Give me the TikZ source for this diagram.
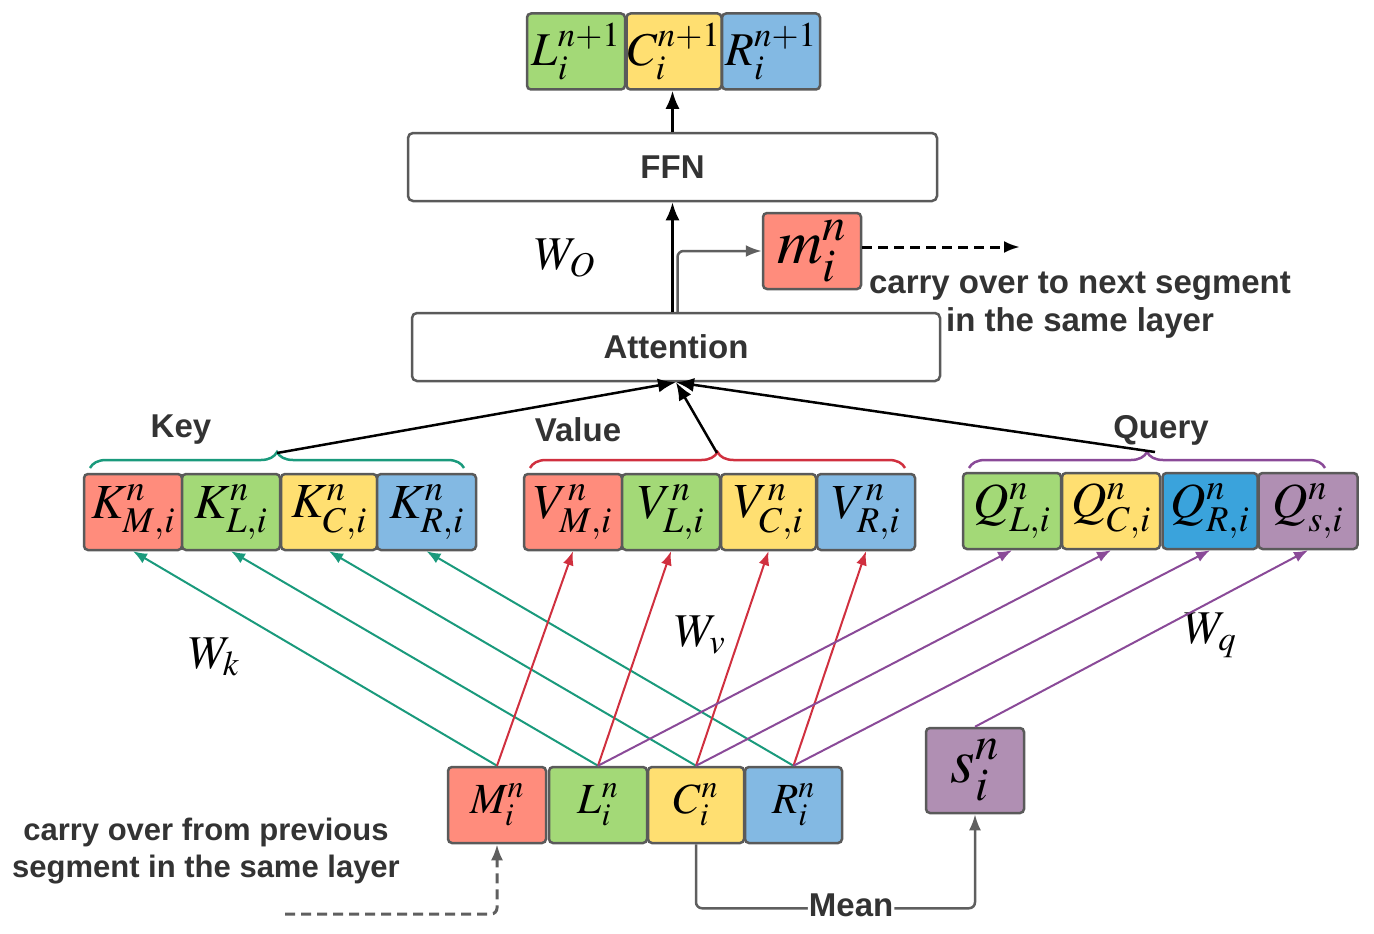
\documentclass[tikz,border=0pt]{standalone}
\usepackage{mathptmx}
\usepackage{fontspec}
\newfontfamily\lsans{Liberation Sans}
\usetikzlibrary{arrows.meta,decorations.pathreplacing,calc}
\definecolor{bd}{HTML}{5A5A5A}
\definecolor{txt}{HTML}{333333}
\definecolor{cM}{HTML}{FF8C7C}
\definecolor{cL}{HTML}{A3D977}
\definecolor{cC}{HTML}{FFDF71}
\definecolor{cR}{HTML}{83B9E3}
\definecolor{cQR}{HTML}{3AA3DC}
\definecolor{cS}{HTML}{B08FB3}
\definecolor{tealc}{HTML}{1A9A7C}
\definecolor{redc}{HTML}{D0303F}
\definecolor{purc}{HTML}{8A4A98}
\definecolor{grayc}{HTML}{5F5F5F}
\begin{document}
\begin{tikzpicture}[x=1pt,y=-1pt,
  cell/.style={draw=bd, line width=2.5pt, rounded corners=4pt, inner sep=0pt,
    minimum width=#1, minimum height=76pt, font=\fontsize{49}{52}\selectfont},
  cell/.default=97pt,
  topcell/.style={cell=#1, font=\fontsize{47}{50}\selectfont},
  botcell/.style={cell=#1, font=\fontsize{43}{46}\selectfont},
  botcell/.default=97pt,
  bigcell/.style={cell=98pt, font=\fontsize{63}{66}\selectfont},
  bigbox/.style={draw=bd, line width=2.5pt, rounded corners=5pt, inner sep=0pt,
    minimum height=68pt, font=\lsans\bfseries\fontsize{33}{38}\selectfont, text=txt},
  lbl/.style={font=\lsans\bfseries\fontsize{33}{38}\selectfont, text=txt, align=center, inner sep=1pt},
  wlbl/.style={font=\fontsize{47}{50}\selectfont, inner sep=0pt},
  tarr/.style={draw=tealc, line width=2pt, -{Latex[length=14pt,width=11pt]}},
  rarr/.style={draw=redc, line width=2pt, -{Latex[length=14pt,width=11pt]}},
  parr/.style={draw=purc, line width=2pt, -{Latex[length=14pt,width=11pt]}},
  barr/.style={draw=black, line width=2.5pt, -{Latex[length=18pt,width=14pt]}},
  garr/.style={draw=grayc, line width=2.5pt, rounded corners=6pt, -{Latex[length=16pt,width=12pt]}},
  dashln/.style={line width=3pt, dash pattern=on 10pt off 6pt},
  bracestyle/.style={line width=2.5pt, decorate, decoration={brace, amplitude=16pt}}
]
\useasboundingbox (0,0) rectangle (1374,934);

% top output cells
\node[topcell=98pt, fill=cL] (Lt) at (576,51.5) {$L_i^{n+1}$};
\node[topcell=95pt, fill=cC] (Ct) at (674,51.5) {$C_i^{n+1}$};
\node[topcell=98pt, fill=cR] (Rt) at (771,51.5) {$R_i^{n+1}$};

% FFN and attention
\node[bigbox, minimum width=529pt] (FFN) at (672.5,167) {FFN};
\node[bigbox, minimum width=528pt] (Att) at (676,347) {Attention};

% memory output
\node[bigcell, fill=cM] (m) at (812,251) {$m_i^n$};
\coordinate (mend) at (1020,247);
\node[lbl] (carrynext) at (1080,305) {carry over to next segment\\in the same layer};

\node[wlbl] (WO) at (565,258) {$W_O$};

% key / value / query rows
\node[cell=98pt, fill=cM] (KM) at (133,512) {$K^n_{M,i}$};
\node[cell=98pt, fill=cL] (KL) at (231,512) {$K^n_{L,i}$};
\node[cell=96pt, fill=cC] (KC) at (329,512) {$K^n_{C,i}$};
\node[cell=99pt, fill=cR] (KR) at (426.5,512) {$K^n_{R,i}$};

\node[cell=98pt, fill=cM] (VM) at (573,512) {$V^n_{M,i}$};
\node[cell=98pt, fill=cL] (VL) at (671,512) {$V^n_{L,i}$};
\node[cell=95pt, fill=cC] (VC) at (768.5,512) {$V^n_{C,i}$};
\node[cell=98pt, fill=cR] (VR) at (866,512) {$V^n_{R,i}$};

\node[cell=98pt, fill=cL] (QL) at (1012,511) {$Q^n_{L,i}$};
\node[cell=98pt, fill=cC] (QC) at (1111,511) {$Q^n_{C,i}$};
\node[cell=95pt, fill=cQR] (QR) at (1210,511) {$Q^n_{R,i}$};
\node[cell=99pt, fill=cS] (Qs) at (1308,511) {$Q^n_{s,i}$};

% braces
\draw[tealc, bracestyle] (90,468) -- (464,468);
\draw[redc, bracestyle] (530,468) -- (905,468);
\draw[purc, bracestyle] (969,468) -- (1325,468);
\coordinate (kb) at (277,453);
\coordinate (vb) at (717,453);
\coordinate (qb) at (1155,452);

\node[lbl] (keylbl) at (181,430) {Key};
\node[lbl] (vallbl) at (578,430) {Value};
\node[lbl] (qrylbl) at (1161,430) {Query};

% bottom input cells
\node[botcell=98pt, fill=cM] (M) at (497,805) {$M_i^n$};
\node[botcell=98pt, fill=cL] (L) at (598,805) {$L_i^n$};
\node[botcell=96pt, fill=cC] (C) at (696,805) {$C_i^n$};
\node[botcell=97pt, fill=cR] (R) at (793.5,805) {$R_i^n$};

\node[bigcell, minimum height=85pt, fill=cS] (s) at (975,770.5) {$s_i^n$};

\node[wlbl] (Wk) at (214,657) {$W_k$};
\node[wlbl] (Wv) at (700,635) {$W_v$};
\node[wlbl] (Wq) at (1210,635) {$W_q$};

\node[lbl, font=\lsans\bfseries\fontsize{31}{37}\selectfont] (carryprev) at (206,851) {carry over from previous\\segment in the same layer};
\coordinate (prevstart) at (285,914);

% projection arrows
\draw[tarr] (M.north) -- (KM.south);
\draw[tarr] (L.north) -- (KL.south);
\draw[tarr] (C.north) -- (KC.south);
\draw[tarr] (R.north) -- (KR.south);

\draw[rarr] (M.north) -- (VM.south);
\draw[rarr] (L.north) -- (VL.south);
\draw[rarr] (C.north) -- (VC.south);
\draw[rarr] (R.north) -- (VR.south);

\draw[parr] (L.north) -- (QL.south);
\draw[parr] (C.north) -- (QC.south);
\draw[parr] (R.north) -- (QR.south);
\draw[parr] (s.north) -- (Qs.south);

% to attention
\draw[barr] (kb) -- (Att.south);
\draw[barr] (vb) -- (Att.south);
\draw[barr] (qb) -- (Att.south);

% attention to FFN, FFN to output
\draw[barr] (Att.north -| FFN.south) -- (FFN.south);
\draw[barr] (FFN.north) -- (FFN.north |- Ct.south);
\draw[garr] ([xshift=1.5pt]Att.north) |- (m.west);
\draw[draw=black, dashln, -{Latex[length=16pt,width=12pt]}] (m.east |- mend) -- (mend);

% mean
\draw[garr] (C.south) -- ++(0,64) -| node[pos=0.278, lbl, fill=white, yshift=3pt] (meanlbl) {Mean} (s.south);

% carry from previous
\draw[garr, dashln] (prevstart) -| (M.south);
\end{tikzpicture}
\end{document}
